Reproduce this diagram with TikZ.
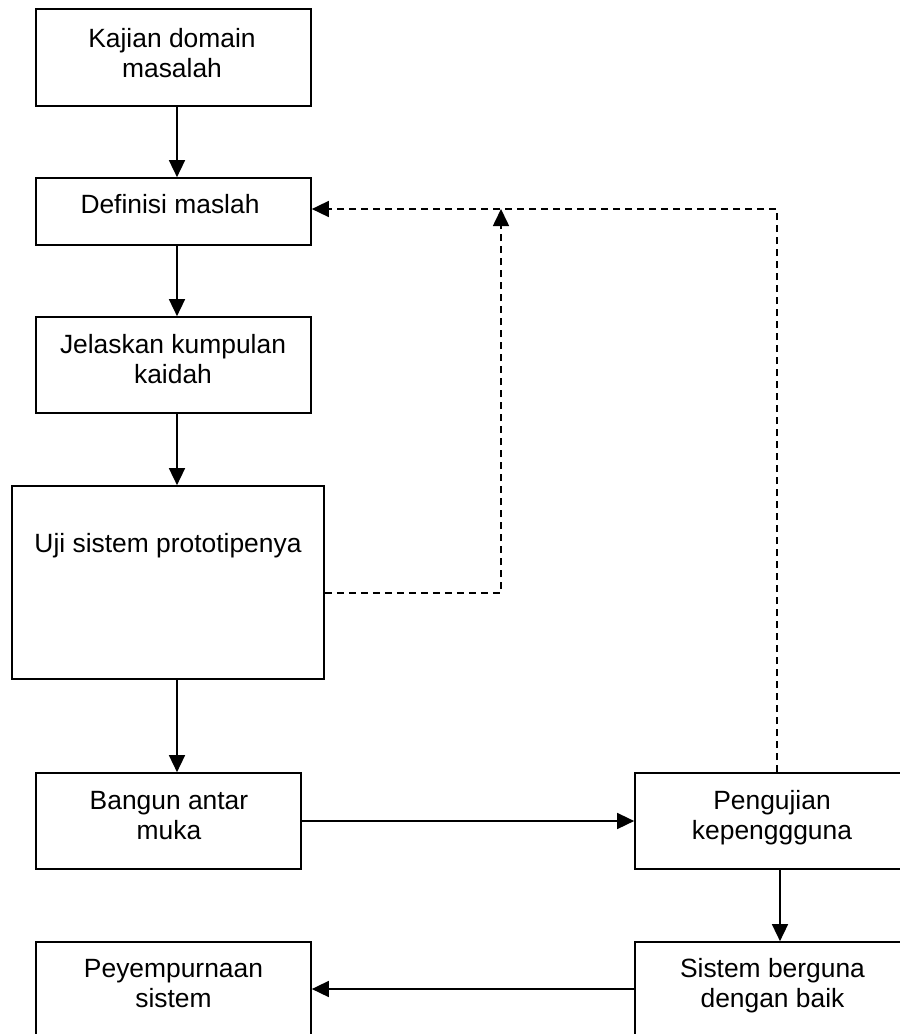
\documentclass[tikz,border=0pt]{standalone}
\usepackage{fontspec}
\setmainfont{Liberation Sans}
\usetikzlibrary{arrows.meta}
\begin{document}
\begin{tikzpicture}[x=1pt,y=-1pt,
  box/.style={draw, line width=1.7pt, inner sep=0pt, fill=white},
  lbl/.style={inner sep=0pt, align=center, font=\fontsize{26.4}{30}\selectfont, anchor=base},
  arr/.style={line width=1.6pt, -{Triangle[length=17pt,width=16pt]}},
  darr/.style={line width=1.6pt, dash pattern=on 7pt off 5pt, -{Triangle[length=17pt,width=16pt]}}]
\useasboundingbox (0,0) rectangle (900,1034);
\clip (0,0) rectangle (900,1034);
% boxes
\node[box, minimum width=275, minimum height=97] (b1) at (173.5,57.5) {};
\node[box, minimum width=275, minimum height=67] (b2) at (173.5,211.5) {};
\node[box, minimum width=275, minimum height=96] (b3) at (173.5,365) {};
\node[box, minimum width=312, minimum height=193] (b4) at (168,582.5) {};
\node[box, minimum width=265, minimum height=96] (b5) at (168.5,821) {};
\node[box, minimum width=274, minimum height=96] (b6) at (772,821) {};
\node[box, minimum width=275, minimum height=100] (b7) at (173.5,992) {};
\node[box, minimum width=274, minimum height=100] (b8) at (772,992) {};
% labels
\node[lbl] (t1) at (172,77) {Kajian domain\\masalah};
\node[lbl] (t2) at (170,213) {Definisi maslah};
\node[lbl] (t3) at (173,383) {Jelaskan kumpulan\\kaidah};
\node[lbl] (t4) at (168,552) {Uji sistem prototipenya};
\node[lbl] (t5) at (169,839) {Bangun antar\\muka};
\node[lbl] (t6) at (772,839) {Pengujian\\kepenggguna};
\node[lbl] (t7) at (173.5,1007) {Peyempurnaan\\sistem};
\node[lbl] (t8) at (772.5,1007) {Sistem berguna\\dengan baik};
% helper coordinates
\coordinate (ax) at (177,0);
\coordinate (bx) at (780,0);
\coordinate (dy) at (0,209);
\coordinate (vx) at (501,0);
\coordinate (rx) at (777,0);
\coordinate (uy) at (0,593);
\coordinate (hy) at (0,989);
% solid arrows
\draw[arr] (b1.south -| ax) -- (b2.north -| ax);
\draw[arr] (b2.south -| ax) -- (b3.north -| ax);
\draw[arr] (b3.south -| ax) -- (b4.north -| ax);
\draw[arr] (b4.south -| ax) -- (b5.north -| ax);
\draw[arr] (b5.east) -- (b6.west);
\draw[arr] (b6.south -| bx) -- (b8.north -| bx);
\draw[arr] (b8.west |- hy) -- (b7.east |- hy);
% dashed feedback
\draw[darr] (b4.east |- uy) -- (vx |- uy) -- (vx |- dy);
\draw[darr] (b6.north -| rx) -- (rx |- dy) -- (b2.east |- dy);
\end{tikzpicture}
\end{document}
